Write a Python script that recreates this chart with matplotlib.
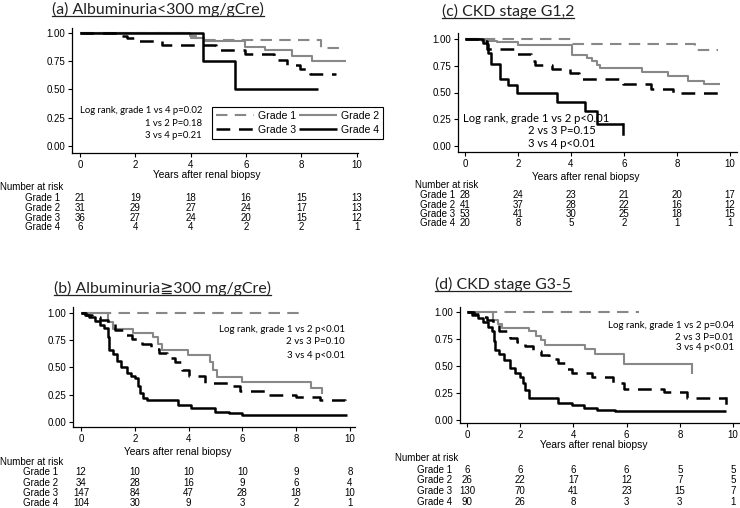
import matplotlib
matplotlib.use("Agg")
import matplotlib.pyplot as plt
import matplotlib.transforms as mtransforms
from matplotlib.lines import Line2D

# ---- data (Kaplan-Meier step points) ----
years = [0, 2, 4, 6, 8, 10]
grades = ["Grade 1", "Grade 2", "Grade 3", "Grade 4"]

# (a) Albuminuria < 300
a1_t = [0, 4.0, 4.3, 8.7]
a1_s = [1.0, 0.955, 0.94, 0.87]
a1_end = 9.63
a2_t = [0, 3.97, 4.2, 4.5, 5.96, 6.68, 7.65, 8.4]
a2_s = [1.0, 0.97, 0.955, 0.93, 0.88, 0.85, 0.795, 0.75]
a2_end = 9.63
a3_t = [0, 1.44, 1.7, 2.1, 2.95, 4.9, 5.95, 7.0, 7.5, 7.95, 8.3]
a3_s = [1.0, 0.975, 0.955, 0.925, 0.89, 0.85, 0.81, 0.765, 0.72, 0.68, 0.635]
a3_end = 9.27
a4_t = [0, 4.45, 5.6]
a4_s = [1.0, 0.75, 0.5]
a4_end = 8.6
risk_a = [[21, 19, 18, 16, 15, 13],
          [31, 29, 27, 24, 17, 13],
          [36, 27, 24, 20, 15, 12],
          [6, 4, 4, 2, 2, 1]]

# (b) Albuminuria >= 300
b1_t = [0]
b1_s = [1.0]
b1_end = 8.33
b2_t = [0, 1.02, 1.2, 1.95, 2.69, 2.85, 3.0, 3.99, 4.8, 4.92, 5.04, 5.97, 8.57, 8.95]
b2_s = [1.0, 0.92, 0.853, 0.82, 0.78, 0.72, 0.66, 0.615, 0.55, 0.48, 0.415, 0.37, 0.31, 0.26]
b2_end = 8.97
b3_t = [0, 0.2, 0.4, 0.7, 1.0, 1.25, 1.6, 1.9, 2.25, 2.6, 2.9, 3.2, 3.5, 3.75, 4.0, 4.6,
        5.6, 5.9, 6.9, 8.0, 8.9, 9.8]
b3_s = [1.0, 0.98, 0.965, 0.94, 0.9, 0.84, 0.80, 0.76, 0.72, 0.67, 0.63, 0.59, 0.55, 0.48, 0.42, 0.36,
        0.33, 0.28, 0.25, 0.23, 0.20, 0.17]
b3_end = 9.9
b4_t = [0, 0.15, 0.3, 0.5, 0.7, 0.85, 1.0, 1.05, 1.2, 1.35, 1.5, 1.7, 1.85, 2.0, 2.1, 2.2,
        2.3, 2.44, 3.6, 4.1, 5.0, 5.5, 6.0]
b4_s = [1.0, 0.98, 0.96, 0.93, 0.89, 0.86, 0.78, 0.66, 0.62, 0.56, 0.50, 0.45, 0.42, 0.40, 0.33, 0.27,
        0.22, 0.20, 0.155, 0.125, 0.095, 0.08, 0.06]
b4_end = 9.9
risk_b = [[12, 10, 10, 10, 9, 8],
          [34, 28, 16, 9, 6, 4],
          [147, 84, 47, 28, 18, 10],
          [104, 30, 9, 3, 2, 1]]

# (c) CKD stage G1,2
c1_t = [0, 4.03, 8.68]
c1_s = [1.0, 0.955, 0.90]
c1_end = 9.56
c2_t = [0, 0.63, 1.2, 2.0, 4.03, 4.59, 4.78, 4.97, 5.09, 6.67, 7.67, 8.43, 9.0]
c2_s = [1.0, 0.985, 0.97, 0.945, 0.85, 0.82, 0.79, 0.76, 0.725, 0.695, 0.65, 0.61, 0.575]
c2_end = 9.62
c3_t = [0, 0.63, 0.82, 0.88, 1.95, 2.5, 2.64, 3.27, 3.96, 4.3, 5.97, 7.0, 7.86]
c3_s = [1.0, 0.98, 0.95, 0.91, 0.86, 0.79, 0.76, 0.72, 0.68, 0.63, 0.58, 0.53, 0.50]
c3_end = 9.8
c4_t = [0, 0.69, 0.82, 0.88, 1.0, 1.32, 1.64, 1.95, 3.46, 4.53, 4.97]
c4_s = [1.0, 0.96, 0.91, 0.87, 0.77, 0.63, 0.57, 0.50, 0.41, 0.33, 0.21]
c4_end = 5.97
c4_last = 0.11
risk_c = [[28, 24, 23, 21, 20, 17],
          [41, 37, 28, 22, 16, 12],
          [53, 41, 30, 25, 18, 15],
          [20, 8, 5, 2, 1, 1]]

# (d) CKD stage G3-5
d1_t = [0]
d1_s = [1.0]
d1_end = 6.47
d2_t = [0, 0.98, 1.16, 1.3, 2.33, 2.6, 2.8, 2.95, 4.43, 4.8, 5.91]
d2_s = [1.0, 0.926, 0.89, 0.855, 0.82, 0.78, 0.74, 0.695, 0.66, 0.61, 0.515]
d2_end = 8.44
d2_last = 0.43
d3_t = [0, 0.25, 0.48, 0.75, 0.98, 1.2, 1.6, 1.9, 2.2, 2.5, 2.8, 3.1, 3.44, 3.7, 3.94,
        4.7, 5.5, 5.9, 7.4, 8.26]
d3_s = [1.0, 0.98, 0.957, 0.93, 0.895, 0.82, 0.756, 0.72, 0.68, 0.64, 0.60, 0.56, 0.525, 0.47, 0.43,
        0.40, 0.34, 0.29, 0.255, 0.20]
d3_end = 9.74
d3_last = 0.16
d4_t = [0, 0.2, 0.4, 0.6, 0.8, 0.95, 1.0, 1.05, 1.2, 1.4, 1.6, 1.8, 2.0, 2.1, 2.2, 2.33,
        3.44, 3.94, 4.4, 4.9, 5.55]
d4_s = [1.0, 0.97, 0.94, 0.91, 0.86, 0.82, 0.73, 0.65, 0.61, 0.55, 0.48, 0.43, 0.40, 0.34, 0.28, 0.20,
        0.155, 0.14, 0.11, 0.093, 0.077]
d4_end = 9.74
risk_d = [[6, 6, 6, 6, 5, 5],
          [26, 22, 17, 12, 7, 5],
          [130, 70, 41, 23, 15, 7],
          [90, 26, 8, 3, 3, 1]]

W, H = 740, 508
GRAY = "#888888"
TICKFONT = ["Liberation Sans", "DejaVu Sans"]
NARROW = ["Liberation Sans Narrow", "Liberation Sans", "DejaVu Sans"]
NOTEFONT = ["Lato", "DejaVu Sans"]

fig = plt.figure(figsize=(W / 100, H / 100), dpi=100)


def fx(x):
    return x / W


def fy(y):
    return 1 - y / H


def make_axes(left, right, top, bottom, xlim, ylim):
    ax = fig.add_axes([fx(left), fy(bottom), (right - left) / W, (bottom - top) / H])
    ax.set_xlim(*xlim)
    ax.set_ylim(*ylim)
    for s in ["top", "right"]:
        ax.spines[s].set_visible(False)
    for s in ["left", "bottom"]:
        ax.spines[s].set_linewidth(0.9)
    ax.set_xticks(years)
    ax.set_yticks([0, 0.25, 0.5, 0.75, 1.0])
    ax.set_yticklabels(["0.00", "0.25", "0.50", "0.75", "1.00"])
    ax.tick_params(direction="out", length=3, width=0.8, labelsize=7, pad=2)
    for lab in ax.get_xticklabels() + ax.get_yticklabels():
        lab.set_family(TICKFONT)
    return ax


def km(ax, t, s, end, color, dashed, lw, last=None):
    xs = list(t) + [end]
    ys = list(s) + [s[-1]]
    line, = ax.step(xs, ys, where="post", color=color, lw=lw, solid_capstyle="butt")
    if dashed:
        line.set_dashes([5.5, 3.5])
        line.set_dash_capstyle("butt")
    if last is not None:
        ax.plot([end, end], [s[-1], last], color=color, lw=lw)
    return line


def title(x, y, txt):
    t = fig.text(fx(x), fy(y), txt, fontsize=11.4, family=["Lato", "DejaVu Sans"],
                 ha="left", va="center", color="#222222")
    r = fig.canvas.get_renderer()
    bb = t.get_window_extent(r)
    fig.add_artist(Line2D([bb.x0 / W, bb.x1 / W], [(bb.y0 + 1) / H, (bb.y0 + 1) / H],
                          color="#222222", lw=0.9))


def risk_table(ax, rows, label_x, grade_x, head_y, row_ys):
    trans = mtransforms.blended_transform_factory(ax.transData, fig.transFigure)
    fig.text(fx(label_x), fy(head_y), "Number at risk", fontsize=7, family=NARROW,
             ha="left", va="center")
    for g, row, yy in zip(grades, rows, row_ys):
        fig.text(fx(grade_x), fy(yy), g, fontsize=7, family=NARROW,
                 ha="left", va="center")
        for xv, n in zip(years, row):
            ax.text(xv, fy(yy), str(n), transform=trans, fontsize=7, family=NARROW,
                    ha="center", va="center")


def xlabel(x, y):
    fig.text(fx(x), fy(y), "Years after renal biopsy", fontsize=7.4, family=TICKFONT,
             ha="center", va="center")


def notes(lines, xs, ys, ha, size=6.8):
    for txt, x, y in zip(lines, xs, ys):
        fig.text(fx(x), fy(y), txt, fontsize=size, family=NOTEFONT, ha=ha, va="center")


# ---- (a) ----
ax_a = make_axes(72, 358, 28, 153, (-0.29, 10.05), (-0.062, 1.044))
h1 = km(ax_a, a1_t, a1_s, a1_end, GRAY, True, 1.5)
h2 = km(ax_a, a2_t, a2_s, a2_end, GRAY, False, 1.5)
h3 = km(ax_a, a3_t, a3_s, a3_end, "black", True, 1.8)
h4 = km(ax_a, a4_t, a4_s, a4_end, "black", False, 1.8)
title(52, 9, "(a) Albuminuria<300 mg/gCre)")
notes(["Log rank, grade 1 vs 4 p=0.02", "1 vs 2 P=0.18", "3 vs 4 p=0.21"],
      [202, 202, 202], [110, 123, 136], "right")
leg = fig.legend([h1, h3, h2, h4], ["Grade 1", "Grade 3", "Grade 2", "Grade 4"], ncol=2,
                 loc="upper left", bbox_to_anchor=(fx(212), fy(107)),
                 frameon=True, fancybox=False, edgecolor="black", framealpha=1,
                 handlelength=3.6, handletextpad=0.4, columnspacing=0.3,
                 borderpad=0.35, labelspacing=0.4, borderaxespad=0,
                 prop={"family": TICKFONT, "size": 7.6})
leg.get_frame().set_linewidth(0.8)
xlabel(207, 175)
risk_table(ax_a, risk_a, 0, 25, 187, [198, 208, 218, 227])

# ---- (c) ----
ax_c = make_axes(458, 737, 33, 152, (-0.26, 10.26), (-0.056, 1.056))
km(ax_c, c1_t, c1_s, c1_end, GRAY, True, 1.5)
km(ax_c, c2_t, c2_s, c2_end, GRAY, False, 1.5)
km(ax_c, c3_t, c3_s, c3_end, "black", True, 1.8)
km(ax_c, c4_t, c4_s, c4_end, "black", False, 1.8, last=c4_last)
title(442, 11, "(c) CKD stage G1,2")
notes(["Log rank, grade 1 vs 2 p<0.01"], [463], [118], "left", size=8.1)
notes(["2 vs 3 P=0.15", "3 vs 4 p<0.01"], [528, 528], [131, 144], "left", size=8.1)
xlabel(586, 177)
risk_table(ax_c, risk_c, 415, 420, 185, [195, 205, 214, 223])

# ---- (b) ----
ax_b = make_axes(73, 355, 307, 427, (-0.3, 10.19), (-0.046, 1.055))
km(ax_b, b1_t, b1_s, b1_end, GRAY, True, 1.5)
km(ax_b, b2_t, b2_s, b2_end, GRAY, False, 1.5)
km(ax_b, b3_t, b3_s, b3_end, "black", True, 1.8)
km(ax_b, b4_t, b4_s, b4_end, "black", False, 1.8)
title(54, 288, "(b) Albuminuria\u2267300 mg/gCre)")
notes(["Log rank, grade 1 vs 2 p<0.01", "2 vs 3 P=0.10", "3 vs 4 p<0.01"],
      [345, 345, 345], [330, 342, 355], "right", size=7.0)
xlabel(178, 452)
risk_table(ax_b, risk_b, 0, 23, 462, [472, 483, 493, 503])

# ---- (d) ----
ax_d = make_axes(460, 740, 307, 423, (-0.26, 10.26), (-0.03, 1.046))
km(ax_d, d1_t, d1_s, d1_end, GRAY, True, 1.5)
km(ax_d, d2_t, d2_s, d2_end, GRAY, False, 1.5, last=d2_last)
km(ax_d, d3_t, d3_s, d3_end, "black", True, 1.8, last=d3_last)
km(ax_d, d4_t, d4_s, d4_end, "black", False, 1.8)
title(435, 284, "(d) CKD stage G3-5")
notes(["Log rank, grade 1 vs 2 p=0.04", "2 vs 3 P=0.01", "3 vs 4 p<0.01"],
      [734, 734, 734], [325, 337, 348], "right", size=7.0)
xlabel(594, 445)
risk_table(ax_d, risk_d, 395, 417, 458, [470, 480, 491, 502])

fig.savefig("out.png", dpi=100)
